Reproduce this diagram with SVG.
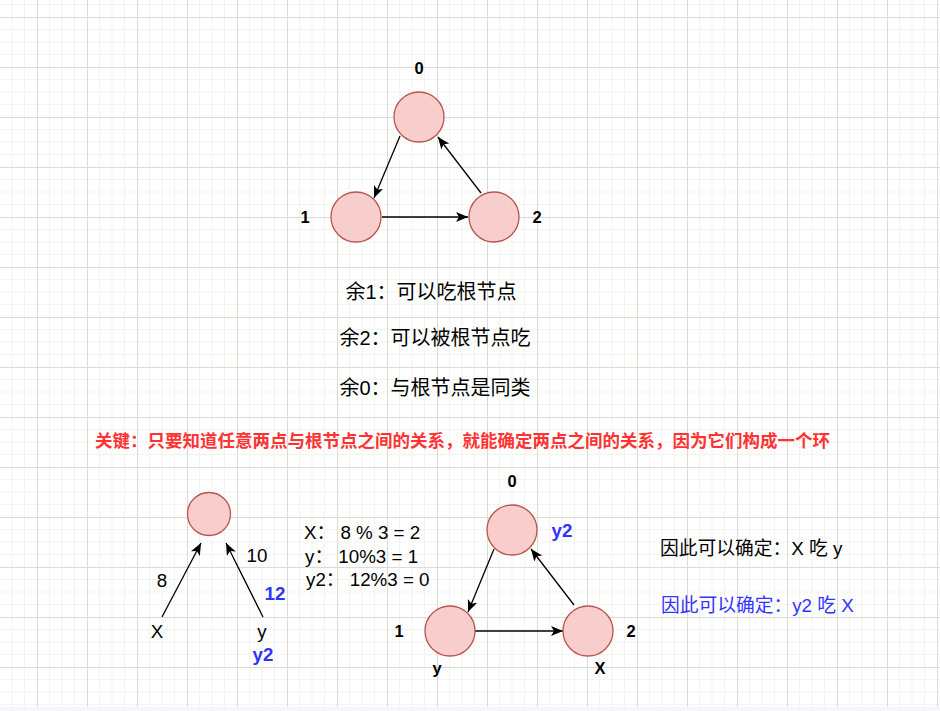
<svg xmlns="http://www.w3.org/2000/svg" width="940" height="711" viewBox="0 0 940 711">
<style>
text{font-family:"Liberation Sans","Noto Sans CJK SC",sans-serif;fill:#000;dominant-baseline:central;white-space:pre}
.node{fill:#f8cecc;stroke:#b85450;stroke-width:1.3}
.edge{stroke:#000;stroke-width:1.3;fill:none;marker-end:url(#arr)}
.lbl{font-weight:bold;font-size:16.5px;text-anchor:middle}
.blue{fill:#3333ff}
.mid{text-anchor:middle}
</style>
<defs>
<pattern id="grid" patternUnits="userSpaceOnUse" x="37" y="17" width="50" height="50">
<rect width="50" height="50" fill="#ffffff"/>
<path d="M12.5,0V50M25,0V50M37.5,0V50M0,12.5H50M0,25H50M0,37.5H50" stroke="#f3f3ef" stroke-width="1"/>
<path d="M0.5,0V50M0,0.5H50" stroke="#dcdcd5" stroke-width="1"/>
</pattern>
<marker id="arr" markerUnits="userSpaceOnUse" markerWidth="14" markerHeight="12" refX="12" refY="5" orient="auto">
<path d="M0,0 L12,5 L0,10 L3,5 Z" fill="#000"/>
</marker>
</defs>
<rect width="940" height="707" fill="url(#grid)"/>
<rect y="707" width="940" height="4" fill="#f4f6f9"/>

<g id="connectors">
<line class="edge" x1="400" y1="136" x2="374" y2="198"/>
<line class="edge" x1="481" y1="193" x2="438" y2="137"/>
<line class="edge" x1="382" y1="217" x2="468" y2="217"/>
<line class="edge" x1="162" y1="617" x2="201" y2="543"/>
<line class="edge" x1="263" y1="617" x2="226" y2="543"/>
<line class="edge" x1="494" y1="549" x2="468" y2="612"/>
<line class="edge" x1="574" y1="605" x2="531" y2="549"/>
<line class="edge" x1="475" y1="631" x2="563" y2="631"/>
</g>

<g id="top-node-0"><circle class="node" cx="419" cy="117" r="25"/><text class="lbl" x="419" y="68">0</text></g>
<g id="top-node-1"><circle class="node" cx="356" cy="217" r="25"/><text class="lbl" x="305" y="217">1</text></g>
<g id="top-node-2"><circle class="node" cx="494" cy="217" r="25"/><text class="lbl" x="537" y="217">2</text></g>

<g id="rules">
<text class="mid" x="431" y="292" font-size="20">余1：可以吃根节点</text>
<text class="mid" x="435" y="338" font-size="20">余2：可以被根节点吃</text>
<text class="mid" x="435" y="388" font-size="20">余0：与根节点是同类</text>
</g>

<g id="key"><text class="mid" x="462.5" y="441" font-size="17.5" font-weight="bold" style="fill:#ff3333">关键：只要知道任意两点与根节点之间的关系，就能确定两点之间的关系，因为它们构成一个环</text></g>

<g id="root-small"><circle class="node" cx="209" cy="514" r="21.5"/></g>
<g id="left-labels">
<text class="mid" x="162" y="580" font-size="18.75">8</text>
<text class="mid" x="257" y="555" font-size="18.75">10</text>
<text class="mid blue" x="275" y="593" font-size="18.75" font-weight="bold">12</text>
<text class="mid" x="157" y="631" font-size="18.75">X</text>
<text class="mid" x="262" y="631" font-size="18.75">y</text>
<text class="mid blue" x="263" y="654" font-size="18.75" font-weight="bold">y2</text>
</g>

<g id="calc">
<text x="304" y="532" font-size="18.75">X： 8 % 3 = 2</text>
<text x="305" y="556" font-size="18.75">y： 10%3 = 1</text>
<text x="306" y="579" font-size="18.75">y2： 12%3 = 0</text>
</g>

<g id="bot-node-0"><circle class="node" cx="512" cy="530" r="25"/><text class="lbl" x="512" y="481">0</text><text class="blue" x="562" y="530" font-size="18.75" font-weight="bold" text-anchor="middle">y2</text></g>
<g id="bot-node-1"><circle class="node" cx="450" cy="631" r="25"/><text class="lbl" x="399" y="631">1</text><text class="lbl" x="437" y="668" font-size="18.75">y</text></g>
<g id="bot-node-2"><circle class="node" cx="588" cy="631" r="25"/><text class="lbl" x="631" y="631">2</text><text class="lbl" x="600" y="668">X</text></g>

<g id="conclusion">
<text x="660" y="548" font-size="18.75">因此可以确定：X 吃 y</text>
<text class="blue" x="661" y="605" font-size="18.75">因此可以确定：y2 吃 X</text>
</g>
</svg>
